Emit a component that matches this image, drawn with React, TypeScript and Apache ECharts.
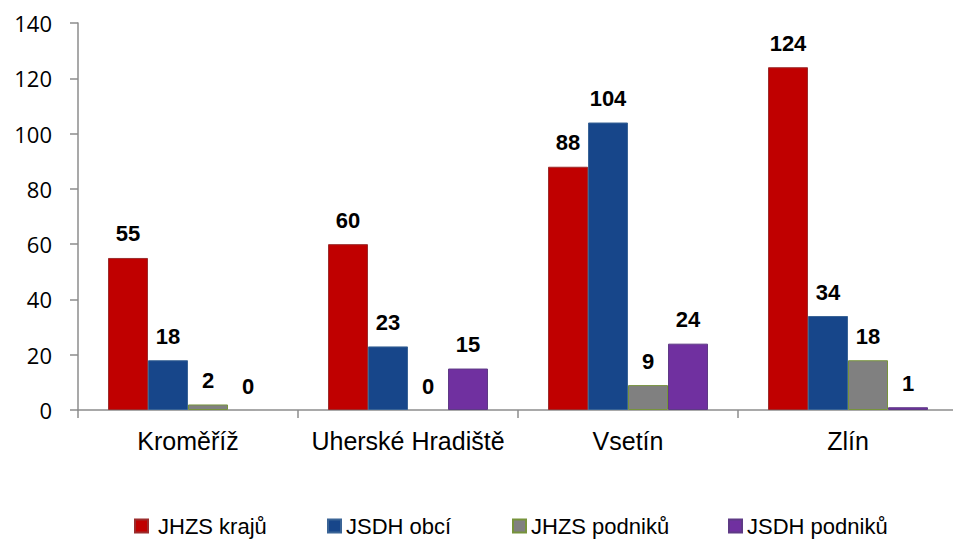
import React, { useEffect, useRef } from "react";
import * as echarts from "echarts";

const categories = ["Kroměříž", "Uherské Hradiště", "Vsetín", "Zlín"];
const seriesNames = ["JHZS krajů", "JSDH obcí", "JHZS podniků", "JSDH podniků"];
const jhzsKraju = [55, 60, 88, 124];
const jsdhObci = [18, 23, 104, 34];
const jhzsPodniku = [2, 0, 9, 18];
const jsdhPodniku = [0, 15, 24, 1];
const yTicks = { min: 0, max: 140, interval: 20 };

const fills = ["#C00000", "#17468A", "#808080", "#7030A0"];
const borders = ["#9B2D2D", "#3A6496", "#77933C", "#5E3A85"];
const legendLefts = [134, 327, 512, 728];
const legendTextPads = [5, 0, 0, 0];

export default function App() {
  const ref = useRef<HTMLDivElement>(null);
  useEffect(() => {
    if (!ref.current) return;
    const chart = echarts.init(ref.current, undefined, { renderer: "svg" });
    const values = [jhzsKraju, jsdhObci, jhzsPodniku, jsdhPodniku];
    chart.setOption({
      animation: false,
      backgroundColor: "#ffffff",
      grid: { left: 78, right: 2, top: 23, bottom: 129, containLabel: false },
      legend: seriesNames.map((name, i) => ({
        data: [name],
        left: legendLefts[i],
        top: 514,
        padding: 0,
        itemWidth: 13,
        itemHeight: 13,
        icon: "rect",
        textStyle: {
          fontFamily: "Liberation Sans, Arial",
          fontSize: 22,
          lineHeight: 24,
          color: "#000",
          padding: [0, 0, 0, legendTextPads[i]],
        },
      })),
      xAxis: {
        type: "category",
        data: categories,
        axisLine: { lineStyle: { color: "#8c8c8c", width: 1.5 } },
        axisTick: { show: true, length: 8, lineStyle: { color: "#8c8c8c", width: 1.5 } },
        axisLabel: {
          interval: 0,
          margin: 18,
          fontFamily: "Liberation Sans, Arial",
          fontSize: 25,
          color: "#000",
        },
      },
      yAxis: {
        type: "value",
        min: yTicks.min,
        max: yTicks.max,
        interval: yTicks.interval,
        axisLine: { show: true, lineStyle: { color: "#8c8c8c", width: 1.5 } },
        axisTick: { show: true, length: 8, lineStyle: { color: "#8c8c8c", width: 1.5 } },
        splitLine: { show: false },
        axisLabel: {
          margin: 26,
          fontFamily: "Open Sans",
          fontSize: 22,
          color: "#000",
        },
      },
      series: seriesNames.map((name, i) => ({
        name,
        type: "bar",
        barWidth: 40,
        barGap: "0%",
        barCategoryGap: "27%",
        itemStyle: { color: fills[i], borderColor: borders[i], borderWidth: 1 },
        label: {
          show: true,
          position: "top",
          distance: 13,
          fontFamily: "Liberation Sans, Arial",
          fontWeight: "bold",
          fontSize: 22,
          color: "#000",
        },
        data: values[i].map((v) =>
          v === 0 ? { value: v, itemStyle: { borderWidth: 0 } } : v
        ),
      })),
    });
    return () => chart.dispose();
  }, []);
  return (
    <div style={{ position: "absolute", left: 0, top: 0, width: 953, height: 539, overflow: "hidden" }}>
      <div ref={ref} style={{ width: 960, height: 539 }} />
    </div>
  );
}
